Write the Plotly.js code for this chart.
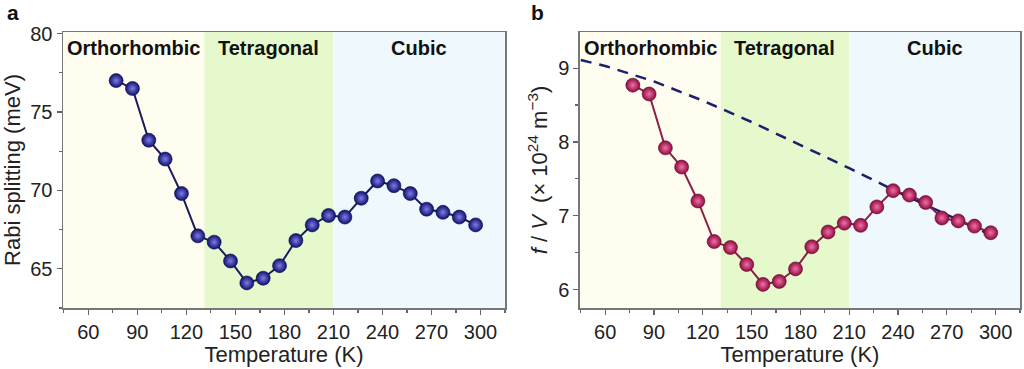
<!DOCTYPE html>
<html>
<head>
<meta charset="utf-8">
<script src="https://cdn.plot.ly/plotly-3.0.1.min.js"></script>
<style>
html,body{margin:0;padding:0;background:#fff;}
#chart{width:1024px;height:369px;}
</style>
</head>
<body>
<div id="chart"></div>
<script>
// ---- data ----
const temperature = [77, 87, 97, 107, 117, 127, 137, 147, 157, 167, 177, 187, 197, 207, 217, 227, 237, 247, 257, 267, 277, 287, 297];
const rabiSplitting = [77.0, 76.5, 73.2, 72.0, 69.8, 67.1, 66.7, 65.5, 64.1, 64.4, 65.2, 66.8, 67.8, 68.4, 68.3, 69.5, 70.6, 70.3, 69.8, 68.8, 68.6, 68.3, 67.8];
const oscDensity = [8.77, 8.65, 7.92, 7.66, 7.20, 6.65, 6.57, 6.34, 6.07, 6.11, 6.28, 6.58, 6.78, 6.90, 6.87, 7.12, 7.34, 7.28, 7.18, 6.97, 6.93, 6.86, 6.77];
const refT = [45, 60, 90, 120, 150, 180, 210, 240, 270, 297];
const refDensity = [9.11, 9.03, 8.82, 8.56, 8.27, 7.96, 7.645, 7.32, 7.01, 6.74];
const phaseNames = ['Orthorhombic', 'Tetragonal', 'Cubic'];
const phaseStart = [44.5, 131, 210];
const phaseEnd = [131, 210, 315];
const phaseColors = ['#fffdf0', '#e6f9cc', '#eef8fd'];
const xTicks = [60, 90, 120, 150, 180, 210, 240, 270, 300];

const FONT = 'Arial, "Liberation Sans", sans-serif';
const XR = [44.5, 315];

const traces = [
  {
    x: temperature, y: rabiSplitting, xaxis: 'x', yaxis: 'y',
    mode: 'lines+markers', type: 'scatter',
    line: {color: '#1b1b5e', width: 2},
    marker: {size: 14, color: '#10106e', line: {color: '#0a0a40', width: 0.6},
             gradient: {type: 'radial', color: '#7d7de6'}},
    hoverinfo: 'x+y', showlegend: false
  },
  {
    x: refT, y: refDensity, xaxis: 'x2', yaxis: 'y2',
    mode: 'lines', type: 'scatter',
    line: {color: '#1c1f6e', width: 2.5, dash: '11px,8px'},
    showlegend: false, hoverinfo: 'skip'
  },
  {
    x: temperature, y: oscDensity, xaxis: 'x2', yaxis: 'y2',
    mode: 'lines+markers', type: 'scatter',
    line: {color: '#8b1f45', width: 2},
    marker: {size: 14, color: '#8e0b3e', line: {color: '#5a0626', width: 0.6},
             gradient: {type: 'radial', color: '#f070a8'}},
    hoverinfo: 'x+y', showlegend: false
  }
];

const shapes = [];
const annotations = [];
[['x', 'y'], ['x2', 'y2']].forEach(([xa, ya]) => {
  phaseNames.forEach((name, i) => {
    shapes.push({type: 'rect', xref: xa, yref: ya + ' domain',
      x0: phaseStart[i], x1: phaseEnd[i], y0: 0, y1: 1,
      fillcolor: phaseColors[i], line: {width: 0}, layer: 'below'});
    annotations.push({xref: xa, yref: ya + ' domain',
      x: (phaseStart[i] + phaseEnd[i]) / 2, y: 0.942,
      text: '<b>' + name + '</b>', showarrow: false,
      font: {family: FONT, size: 20, color: '#111'},
      xanchor: 'center', yanchor: 'middle'});
  });
});
annotations.push({xref: 'paper', yref: 'paper', x: -0.052, y: 1.07, text: '<b>a</b>',
  showarrow: false, xanchor: 'center', yanchor: 'middle', font: {family: FONT, size: 21, color: '#111'}});
annotations.push({xref: 'paper', yref: 'paper', x: 0.4953, y: 1.07, text: '<b>b</b>',
  showarrow: false, xanchor: 'center', yanchor: 'middle', font: {family: FONT, size: 21, color: '#111'}});

function xAxis(domain, anchor) {
  return {
    domain: domain, anchor: anchor, range: XR,
    tickvals: xTicks, ticks: 'outside', ticklen: 5, tickwidth: 1.2, tickcolor: '#666',
    minor: {dtick: 15, tick0: 45, ticks: 'outside', ticklen: 3, tickcolor: '#666', showgrid: false},
    showline: true, linecolor: '#777', linewidth: 1.5, mirror: true,
    showgrid: false, zeroline: false,
    tickfont: {family: FONT, size: 20, color: '#222'},
    title: {text: 'Temperature (K)', font: {family: FONT, size: 22, color: '#222'}, standoff: 4}
  };
}

const layout = {
  width: 1024, height: 369,
  margin: {l: 63, r: 4, t: 32, b: 61},
  paper_bgcolor: '#ffffff', plot_bgcolor: 'rgba(0,0,0,0)',
  font: {family: FONT},
  xaxis: xAxis([0, 0.4619], 'y'),
  xaxis2: xAxis([0.5402, 1], 'y2'),
  yaxis: {
    domain: [0, 1], anchor: 'x', range: [62.5, 80.1],
    tickvals: [65, 70, 75, 80], ticks: 'outside', ticklen: 5, tickwidth: 1.2, tickcolor: '#666',
    minor: {dtick: 2.5, tick0: 62.5, ticks: 'outside', ticklen: 3, tickcolor: '#666', showgrid: false},
    showline: true, linecolor: '#777', linewidth: 1.5, mirror: true,
    showgrid: false, zeroline: false,
    tickfont: {family: FONT, size: 20, color: '#222'},
    title: {text: 'Rabi splitting (meV)', font: {family: FONT, size: 22, color: '#222'}, standoff: 6}
  },
  yaxis2: {
    domain: [0, 1], anchor: 'x2', range: [5.75, 9.49],
    tickvals: [6, 7, 8, 9], ticks: 'outside', ticklen: 5, tickwidth: 1.2, tickcolor: '#666',
    minor: {dtick: 0.5, tick0: 6, ticks: 'outside', ticklen: 3, tickcolor: '#666', showgrid: false},
    showline: true, linecolor: '#777', linewidth: 1.5, mirror: true,
    showgrid: false, zeroline: false,
    tickfont: {family: FONT, size: 20, color: '#222'},
    title: {text: '<i>f</i> / <i>V</i>  (× 10<sup>24</sup> m<sup>−3</sup>)', font: {family: FONT, size: 22, color: '#222'}, standoff: 4}
  },
  shapes: shapes,
  annotations: annotations
};

Plotly.newPlot('chart', traces, layout, {staticPlot: true, displayModeBar: false});
</script>
</body>
</html>
